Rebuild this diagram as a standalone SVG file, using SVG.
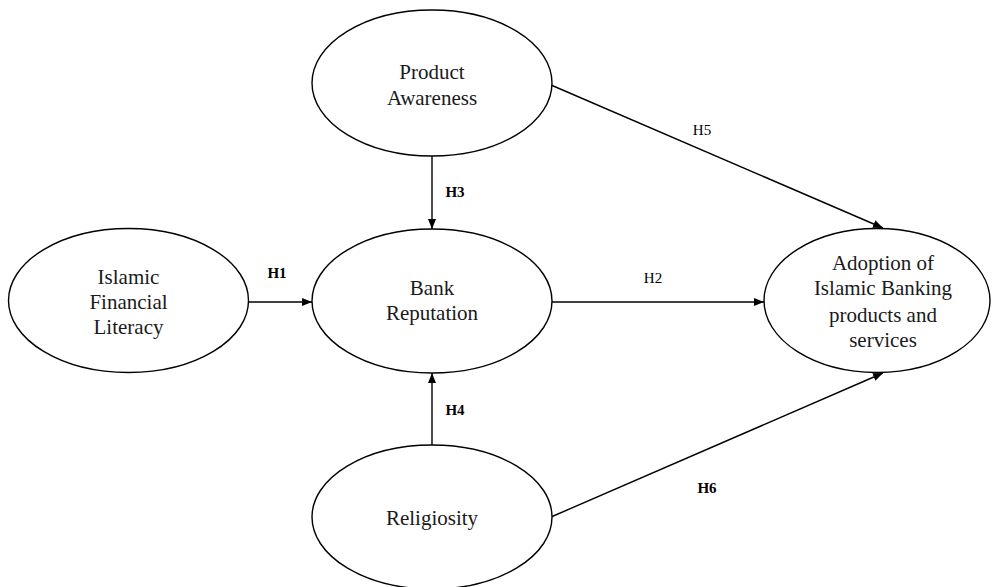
<svg xmlns="http://www.w3.org/2000/svg" width="993" height="587" viewBox="0 0 993 587">
<style>
.node ellipse{fill:#fff;stroke:#000;stroke-width:1.4}
.node text{font-family:"Liberation Serif","Times New Roman",serif;font-size:21px;fill:#1a1a1a;text-anchor:middle}
.conn line{stroke:#000;stroke-width:1.4}
.lbl{font-family:"Liberation Serif","Times New Roman",serif;font-size:15px;fill:#000;text-anchor:middle}
.b{font-weight:bold}
</style>
<defs>
<marker id="ah" markerWidth="10" markerHeight="8" refX="10" refY="4" orient="auto" markerUnits="userSpaceOnUse">
<path d="M0,0 L10,4 L0,8 z" fill="#000"/>
</marker>
</defs>
<rect width="993" height="587" fill="#fff"/>
<g id="connectors" class="conn">
<line x1="248" y1="302" x2="312" y2="302" marker-end="url(#ah)"/>
<line x1="551" y1="302" x2="764" y2="302" marker-end="url(#ah)"/>
<line x1="432" y1="156" x2="432" y2="229" marker-end="url(#ah)"/>
<line x1="432" y1="446" x2="432" y2="373" marker-end="url(#ah)"/>
<line x1="551" y1="85" x2="883" y2="228" marker-end="url(#ah)"/>
<line x1="551" y1="517" x2="883" y2="373" marker-end="url(#ah)"/>
</g>
<g id="labels">
<text class="lbl b" x="277" y="278">H1</text>
<text class="lbl" x="653" y="283">H2</text>
<text class="lbl b" x="455" y="197">H3</text>
<text class="lbl b" x="455" y="415">H4</text>
<text class="lbl" x="702" y="135">H5</text>
<text class="lbl b" x="707" y="493">H6</text>
</g>
<g id="product-awareness" class="node">
<ellipse cx="432" cy="83" rx="120" ry="73"/>
<text x="432" y="79">Product</text>
<text x="432" y="105">Awareness</text>
</g>
<g id="islamic-financial-literacy" class="node">
<ellipse cx="128.5" cy="300.5" rx="120" ry="72"/>
<text x="128.5" y="284">Islamic</text>
<text x="128.5" y="309">Financial</text>
<text x="128.5" y="334">Literacy</text>
</g>
<g id="bank-reputation" class="node">
<ellipse cx="432" cy="301" rx="120" ry="72"/>
<text x="432" y="295">Bank</text>
<text x="432" y="320">Reputation</text>
</g>
<g id="adoption" class="node">
<ellipse cx="877" cy="300.5" rx="113" ry="72"/>
<text x="883" y="270">Adoption of</text>
<text x="883" y="295">Islamic Banking</text>
<text x="883" y="322">products and</text>
<text x="883" y="347">services</text>
</g>
<g id="religiosity" class="node">
<ellipse cx="432" cy="517" rx="120" ry="72"/>
<text x="432" y="525">Religiosity</text>
</g>
</svg>
